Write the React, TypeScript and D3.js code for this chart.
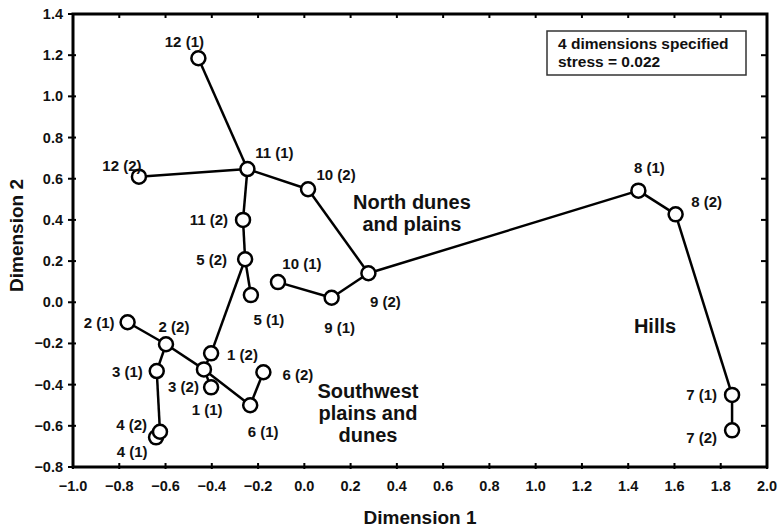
import React from "react";
import * as d3 from "d3";

// MDS configuration, sites x occasions
const siteNames = [
  "12 (1)", "12 (2)", "11 (1)", "11 (2)", "10 (1)", "10 (2)",
  "9 (1)", "9 (2)", "8 (1)", "8 (2)", "7 (1)", "7 (2)",
  "5 (1)", "5 (2)", "6 (1)", "6 (2)", "1 (1)", "1 (2)",
  "2 (1)", "2 (2)", "3 (1)", "3 (2)", "4 (1)", "4 (2)",
];
const dim1 = [
  -0.458, -0.715, -0.246, -0.265, -0.114, 0.016,
  0.118, 0.277, 1.444, 1.605, 1.849, 1.849,
  -0.231, -0.256, -0.234, -0.177, -0.403, -0.403,
  -0.764, -0.598, -0.638, -0.434, -0.641, -0.624,
];
const dim2 = [
  1.185, 0.61, 0.647, 0.4, 0.098, 0.549,
  0.022, 0.141, 0.542, 0.427, -0.45, -0.622,
  0.035, 0.209, -0.5, -0.34, -0.413, -0.248,
  -0.097, -0.204, -0.334, -0.326, -0.656, -0.629,
];
const links = [
  ["12 (1)", "11 (1)"], ["12 (2)", "11 (1)"], ["11 (1)", "10 (2)"],
  ["11 (1)", "11 (2)"], ["11 (2)", "5 (2)"], ["5 (2)", "5 (1)"],
  ["5 (2)", "1 (2)"], ["1 (2)", "3 (2)"], ["3 (2)", "1 (1)"],
  ["2 (1)", "2 (2)"], ["2 (2)", "3 (2)"], ["3 (2)", "6 (1)"],
  ["6 (1)", "6 (2)"], ["2 (2)", "3 (1)"], ["3 (1)", "4 (2)"],
  ["4 (2)", "4 (1)"], ["10 (2)", "9 (2)"], ["10 (1)", "9 (1)"],
  ["9 (1)", "9 (2)"], ["9 (2)", "8 (1)"], ["8 (1)", "8 (2)"],
  ["8 (2)", "7 (1)"], ["7 (1)", "7 (2)"],
];
const xTicks = [-1.0, -0.8, -0.6, -0.4, -0.2, 0.0, 0.2, 0.4, 0.6, 0.8, 1.0, 1.2, 1.4, 1.6, 1.8, 2.0];
const yTicks = [-0.8, -0.6, -0.4, -0.2, 0.0, 0.2, 0.4, 0.6, 0.8, 1.0, 1.2, 1.4];
const regionNotes = [
  { lines: ["North dunes", "and plains"], x: 0.465, y: 0.453 },
  { lines: ["Southwest", "plains and", "dunes"], x: 0.275, y: -0.465 },
  { lines: ["Hills"], x: 1.516, y: -0.149 },
];
const stressNote = ["4 dimensions specified", "stress = 0.022"];

// label placement: [anchor, dx, dy]
const labelPos = {
  "12 (1)": ["middle", -14, -11], "12 (2)": ["middle", -17, -6],
  "11 (1)": ["middle", 27, -11], "10 (2)": ["middle", 28, -9],
  "11 (2)": ["end", -15, 5], "5 (2)": ["end", -18, 6],
  "5 (1)": ["middle", 18, 30], "10 (1)": ["middle", 24, -13],
  "9 (1)": ["middle", 8, 35], "9 (2)": ["middle", 17, 34],
  "8 (1)": ["middle", 11, -18], "8 (2)": ["middle", 31, -7],
  "7 (1)": ["end", -15, 5], "7 (2)": ["end", -15, 13],
  "2 (1)": ["end", -13, 6], "2 (2)": ["middle", 8, -12],
  "3 (1)": ["end", -14, 6], "3 (2)": ["end", -5, 23],
  "1 (2)": ["start", 16, 7], "1 (1)": ["middle", -4, 28],
  "6 (1)": ["middle", 13, 32], "6 (2)": ["start", 19, 8],
  "4 (2)": ["end", -13, -2], "4 (1)": ["middle", -24, 20],
};

const W = 779;
const H = 527;
const margin = { left: 73, right: 12, top: 14, bottom: 60 };
const font = "'Liberation Sans', Arial, Helvetica, sans-serif";

export default function App() {
  const x = d3.scaleLinear().domain([-1, 2]).range([margin.left, W - margin.right]);
  const y = d3.scaleLinear().domain([-0.8, 1.4]).range([H - margin.bottom, margin.top]);
  const x0 = x.range()[0], x1 = x.range()[1];
  const y0 = y.range()[0], y1 = y.range()[1];

  const pts = new Map(siteNames.map((n, i) => [n, { name: n, px: x(dim1[i]), py: y(dim2[i]) }]));
  const line = d3.line();

  return (
    <div style={{ position: "fixed", left: 0, top: 0 }}>
      <svg width={W} height={H} style={{ display: "block", background: "#fff" }} fontFamily={font} fontWeight="bold">
        {/* ticks */}
        <g stroke="#000" strokeWidth={2}>
          {xTicks.map((t) => (
            <g key={"x" + t}>
              <line x1={x(t)} x2={x(t)} y1={y0 - 4} y2={y0 + 2} />
              <line x1={x(t)} x2={x(t)} y1={y1} y2={y1 + 4} />
            </g>
          ))}
          {yTicks.map((t) => (
            <g key={"y" + t}>
              <line x1={x0 - 5} x2={x0 + 3} y1={y(t)} y2={y(t)} />
              <line x1={x1 - 6} x2={x1} y1={y(t)} y2={y(t)} />
            </g>
          ))}
        </g>
        <rect x={x0} y={y1} width={x1 - x0} height={y0 - y1} fill="none" stroke="#000" strokeWidth={3} />

        {/* tick labels */}
        <g fontSize={14.5} fill="#111">
          {xTicks.map((t) => (
            <text key={"xl" + t} x={x(t)} y={y0 + 24} textAnchor="middle">{d3.format(".1f")(t)}</text>
          ))}
          {yTicks.map((t) => (
            <text key={"yl" + t} x={x0 - 10} y={y(t) + 5} textAnchor="end">{d3.format(".1f")(t)}</text>
          ))}
        </g>
        <text x={420} y={524} textAnchor="middle" fontSize={19} fill="#111">Dimension 1</text>
        <text transform={`translate(23,${(y0 + y1) / 2 - 5}) rotate(-90)`} textAnchor="middle" fontSize={19} fill="#111">Dimension 2</text>

        {/* links */}
        <g stroke="#000" strokeWidth={2.5} fill="none">
          {links.map(([a, b]) => {
            const p = pts.get(a)!, q = pts.get(b)!;
            return <path key={a + b} d={line([[p.px, p.py], [q.px, q.py]]) || ""} />;
          })}
        </g>

        {/* points */}
        <g stroke="#000" strokeWidth={2.5} fill="#fff">
          {siteNames.map((n) => {
            const p = pts.get(n)!;
            return <circle key={n} cx={p.px} cy={p.py} r={7} />;
          })}
        </g>
        <g fontSize={15} fill="#111">
          {siteNames.map((n) => {
            const p = pts.get(n)!;
            const [anchor, dx, dy] = labelPos[n];
            return (
              <text key={"t" + n} x={p.px + dx} y={p.py + dy} textAnchor={anchor}>{n}</text>
            );
          })}
        </g>

        {/* region notes */}
        <g fontSize={20} fill="#111" textAnchor="middle">
          {regionNotes.map((r) => (
            <text key={r.lines[0]} x={x(r.x)} y={y(r.y)}>
              {r.lines.map((l, i) => (
                <tspan key={l} x={x(r.x)} dy={i === 0 ? 0 : 22}>{l}</tspan>
              ))}
            </text>
          ))}
        </g>

        {/* stress box */}
        <rect x={547} y={31} width={199} height={44} fill="#fff" stroke="#333" strokeWidth={1.5} />
        <g fontSize={15.5} fill="#111">
          {stressNote.map((s, i) => (
            <text key={s} x={558} y={49 + i * 18}>{s}</text>
          ))}
        </g>
      </svg>
    </div>
  );
}
